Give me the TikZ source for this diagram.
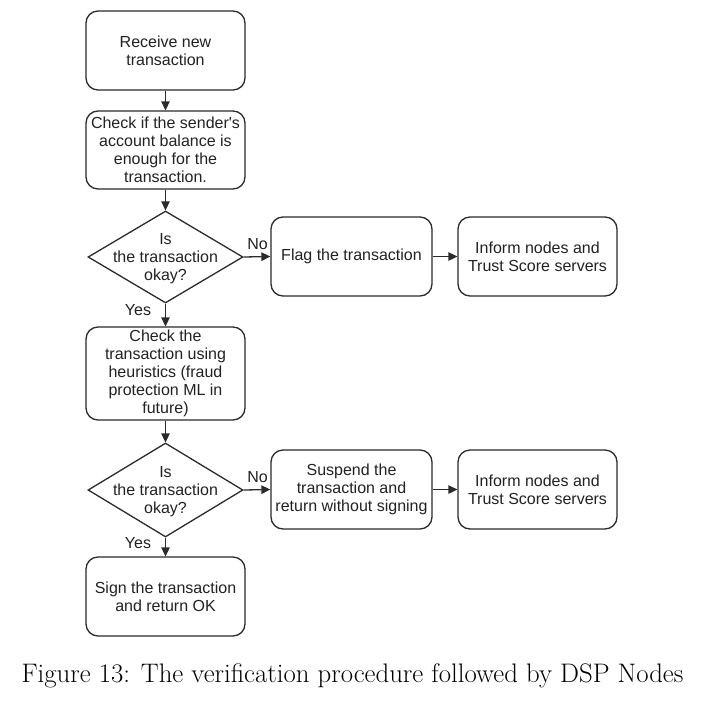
\documentclass[tikz,border=0pt]{standalone}
\usepackage{fontspec}
\newfontfamily\diafont{Liberation Sans}
\usetikzlibrary{shapes.geometric,arrows.meta}
\definecolor{linec}{HTML}{2B2B2B}
\definecolor{textc}{HTML}{222222}
\tikzset{
  box/.style={draw=linec, line width=1.3pt, rounded corners=12pt, minimum width=159pt, minimum height=79pt, inner sep=2pt, align=center, text=textc, font=\diafont\fontsize{16}{18}\selectfont},
  dia/.style={draw=linec, line width=1.3pt, diamond, minimum width=155pt, minimum height=92pt, inner sep=0pt},
  diatext/.style={align=center, text=textc, font=\diafont\fontsize{16}{18}\selectfont, inner sep=0pt},
  lbl/.style={text=textc, font=\diafont\fontsize{16}{18}\selectfont, inner sep=0pt},
  arr/.style={draw=linec, line width=1.3pt, -{Triangle[length=9pt,width=8.5pt]}},
}
\begin{document}
\begin{tikzpicture}[x=1pt,y=-1pt]
\useasboundingbox[fill=white] (0,0) rectangle (706,704);
\node[box] (b1) at (165.5,50.5) {Receive new\\transaction};
\node[box, minimum height=78pt] (b2) at (165.5,150) {Check if the sender's\\account balance is\\enough for the\\transaction.};
\node[dia] (d1) at (165.5,257) {};
\node[diatext] (d1t) at (165.5,258.5) {Is\\the transaction\\okay?};
\node[box, minimum width=161pt] (flag) at (351.5,256.5) {Flag the transaction};
\node[box] (inf1) at (537.5,256.5) {Inform nodes and\\Trust Score servers};
\node[box, minimum height=93pt] (b3) at (165.5,373.5) {Check the\\transaction using\\heuristics (fraud\\protection ML in\\future)};
\node[dia, minimum height=94pt] (d2) at (165.5,490) {};
\node[diatext] (d2t) at (165.5,491.5) {Is\\the transaction\\okay?};
\node[box, minimum width=161pt] (susp) at (351.5,489.5) {Suspend the\\transaction and\\return without signing};
\node[box] (inf2) at (537.5,489.5) {Inform nodes and\\Trust Score servers};
\node[box] (b4) at (165.5,596.5) {Sign the transaction\\and return OK};
\draw[arr] (b1) -- (b2);
\draw[arr] (b2) -- (d1);
\draw[arr] (d1) -- (b3);
\draw[arr] (b3) -- (d2);
\draw[arr] (d2) -- (b4);
\draw[arr] (d1.east) -- (flag.west);
\draw[arr] (flag) -- (inf1);
\draw[arr] (d2.east) -- (susp.west);
\draw[arr] (susp) -- (inf2);
\node[lbl] (no1) at (257.5,244) {No};
\node[lbl] (yes1) at (138,310) {Yes};
\node[lbl] (no2) at (257.5,477) {No};
\node[lbl] (yes2) at (138,543) {Yes};
\node[font=\fontsize{26.8}{32}\selectfont, inner sep=0pt] (cap) at (352.5,676) {Figure 13: The verification procedure followed by DSP Nodes};
\end{tikzpicture}
\end{document}
